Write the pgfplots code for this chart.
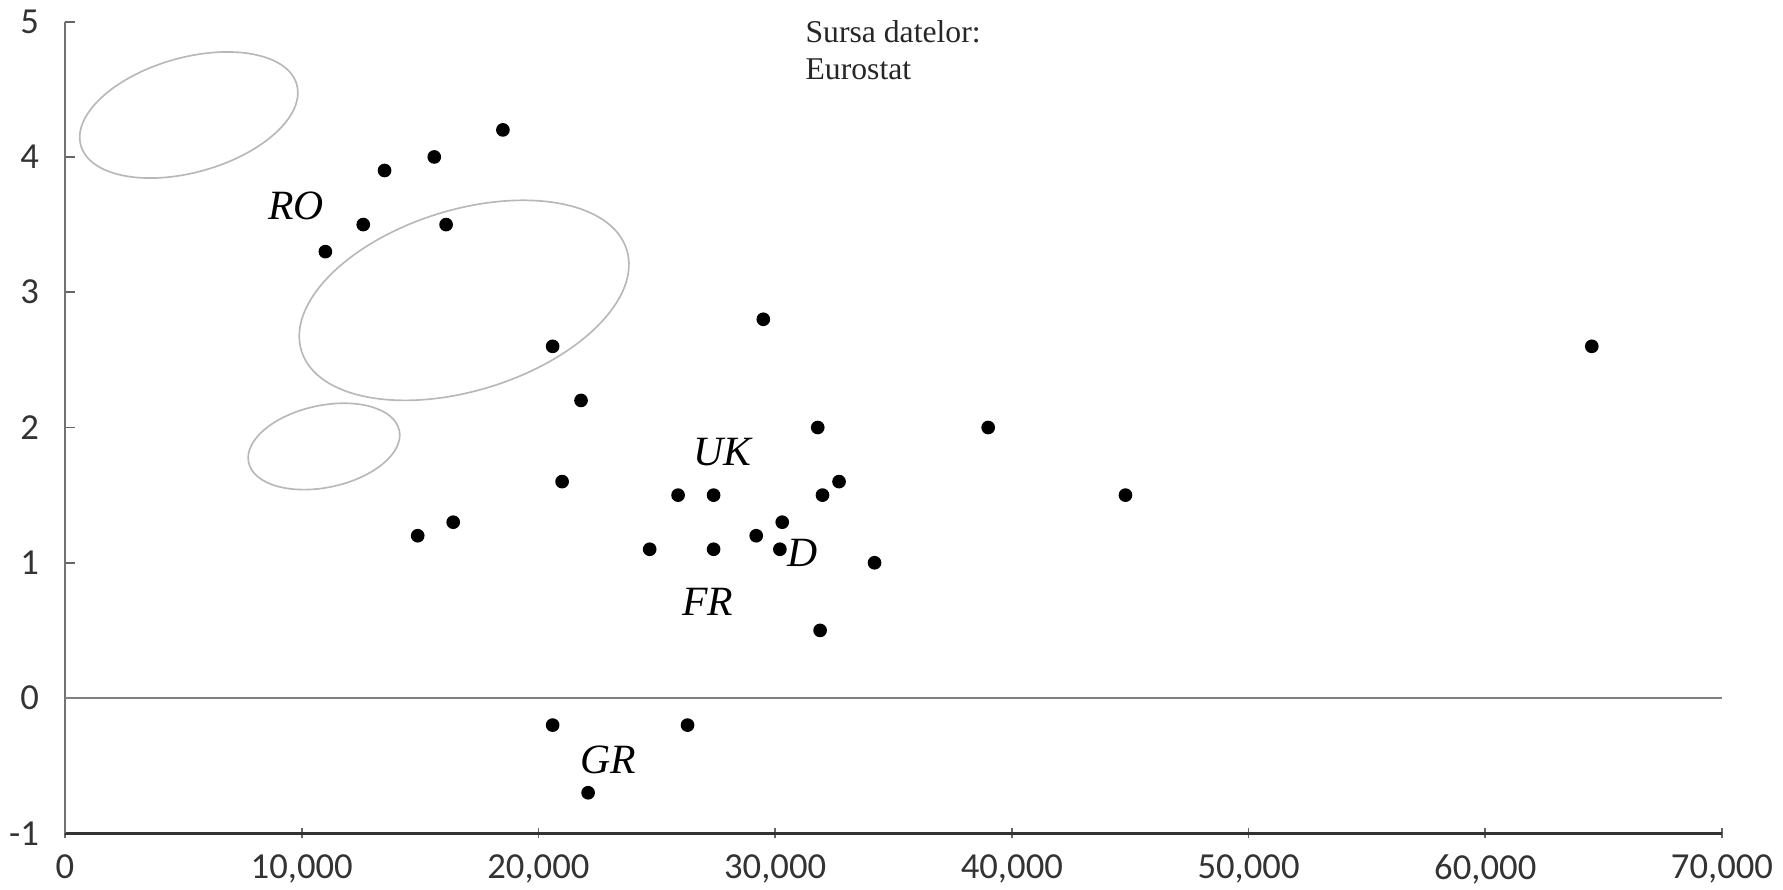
\documentclass[border=0pt]{standalone}
\usepackage{fontspec}
\setmainfont{Liberation Serif}
\newfontfamily\tickfont{Carlito}
\usepackage{pgfplots}
\pgfplotsset{compat=1.18}
\usetikzlibrary{shapes.geometric}
\begin{document}
\begin{tikzpicture}
\begin{axis}[
  scale only axis,
  width=497.1pt, height=243.5pt,
  xmin=0, xmax=70000, ymin=-1, ymax=5,
  axis x line*=bottom, axis y line*=left,
  axis line style={-},
  x axis line style={black!80, line width=0.8pt},
  y axis line style={black!55, line width=0.6pt},
  xtick={0,10000,20000,30000,40000,50000,60000,70000},
  xticklabels={0,{10,000},{20,000},{30,000},{40,000},{50,000},{60,000},{70,000}},
  ytick={-1,0,1,2,3,4,5},
  yticklabels={-1,0,1,2,3,4,5},
  tick align=inside,
  major tick length=3pt,
  tick style={black!60, line width=0.5pt},
  xtick style={yshift=-1.5pt},
  ticklabel style={font=\tickfont\fontsize{11}{13}\selectfont, text=black!80},
  xticklabel style={inner sep=1pt, yshift=-5.2pt},
  yticklabel style={xshift=-4.3pt},
  clip=false,
]
\addplot[black!50, line width=0.75pt] coordinates {(0,0) (70000,0)};
\addplot[only marks, mark=*, mark size=1.85pt, black] coordinates {
(11000,3.3) (12600,3.5) (13500,3.9) (15600,4.0) (16100,3.5) (18500,4.2)
(20600,2.6) (21800,2.2) (29500,2.8) (64500,2.6) (31800,2.0) (39000,2.0)
(21000,1.6) (25900,1.5) (27400,1.5) (32000,1.5) (32700,1.6) (44800,1.5)
(14900,1.2) (16400,1.3) (24700,1.1) (27400,1.1) (29200,1.2) (30300,1.3)
(30200,1.1) (34200,1.0) (31900,0.5) (20600,-0.2) (26300,-0.2) (22100,-0.7)
};
\node[draw=black!28, line width=0.5pt, ellipse, inner sep=0pt, minimum width=67.3pt, minimum height=34.4pt, rotate=15.8] at (axis cs:5230,4.31) {};
\node[draw=black!28, line width=0.5pt, ellipse, inner sep=0pt, minimum width=102.2pt, minimum height=54.2pt, rotate=17.3] at (axis cs:16860,2.94) {};
\node[draw=black!28, line width=0.5pt, ellipse, inner sep=0pt, minimum width=46.2pt, minimum height=24.6pt, rotate=12] at (axis cs:10940,1.86) {};
\node[inner sep=0pt, font=\itshape\fontsize{12.5}{14}\selectfont] at (axis cs:9760,3.64) {RO};
\node[inner sep=0pt, font=\itshape\fontsize{12.5}{14}\selectfont] at (axis cs:27760,1.82) {UK};
\node[inner sep=0pt, font=\itshape\fontsize{12.5}{14}\selectfont] at (axis cs:31140,1.07) {D};
\node[inner sep=0pt, font=\itshape\fontsize{12.5}{14}\selectfont] at (axis cs:27160,0.71) {FR};
\node[inner sep=0pt, font=\itshape\fontsize{12.5}{14}\selectfont] at (axis cs:22940,-0.46) {GR};
\node[inner sep=0pt, anchor=north west, align=left, text=black!85, font=\fontsize{9.5}{11.1}\selectfont] at (axis cs:31260,5.01) {Sursa datelor:\\Eurostat};
\end{axis}
\pgfresetboundingbox
\path (-19.5pt,-17pt) rectangle (515.4pt,250pt);
\end{tikzpicture}
\end{document}
